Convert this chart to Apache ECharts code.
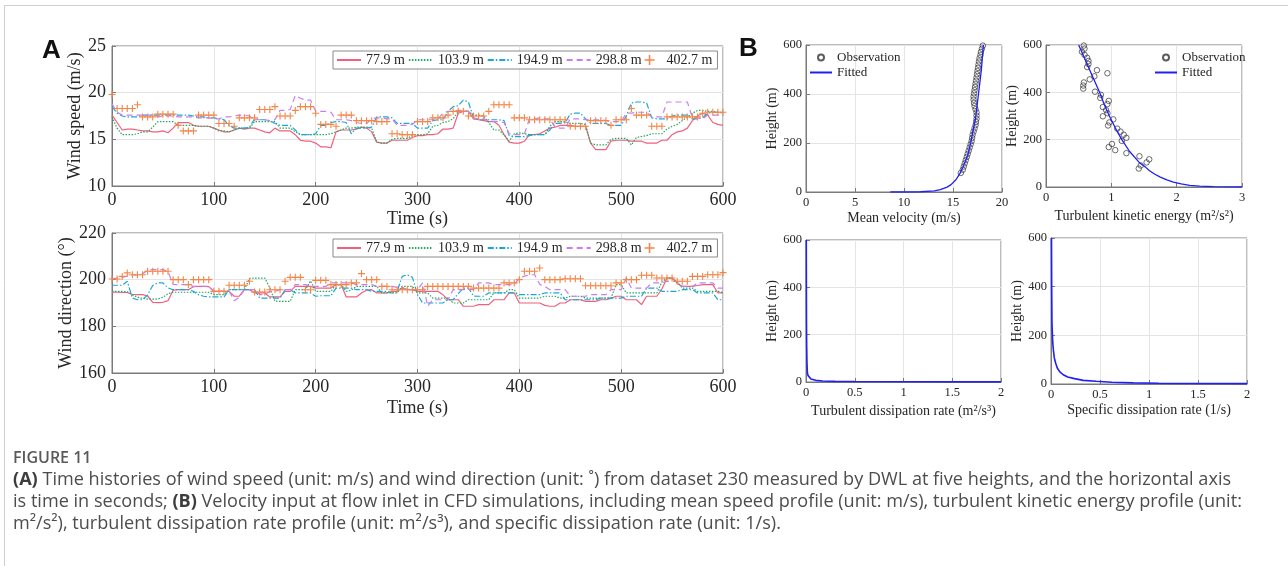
<!DOCTYPE html>
<html>
<head>
<meta charset="utf-8">
<script src="https://cdn.jsdelivr.net/npm/echarts@6/dist/echarts.min.js"></script>
<style>
html,body{margin:0;padding:0;background:#fff;}
#chart{width:1288px;height:566px;}
</style>
</head>
<body>
<div id="chart"></div>
<script>
// ---------------- DATA ----------------
const time = [0,5,10,15,20,25,30,35,40,45,50,55,60,65,70,75,80,85,90,95,
100,105,110,115,120,125,130,135,140,145,150,155,160,165,170,175,180,185,190,195,
200,205,210,215,220,225,230,235,240,245,250,255,260,265,270,275,280,285,290,295,
300,305,310,315,320,325,330,335,340,345,350,355,360,365,370,375,380,385,390,395,
400,405,410,415,420,425,430,435,440,445,450,455,460,465,470,475,480,485,490,495,
500,505,510,515,520,525,530,535,540,545,550,555,560,565,570,575,580,585,590,595,600];

const heightNames = ['77.9 m','103.9 m','194.9 m','298.8 m','402.7 m'];

const speed779 = [17.6,16.8,16.0,16.1,16.1,16.0,15.9,15.9,15.8,15.8,
15.9,15.7,16.2,16.8,16.8,16.8,16.5,16.4,16.4,16.4,
16.2,16.0,15.8,15.8,16.0,16.2,16.1,16.2,16.2,16.0,
15.8,15.7,16.2,15.9,15.9,15.9,15.5,14.9,14.8,14.8,
14.6,14.2,14.2,14.1,15.8,16.0,16.0,16.0,16.1,16.3,
16.2,15.8,14.7,14.6,14.6,14.9,14.9,14.9,14.9,15.2,
15.4,15.4,15.5,15.5,15.6,16.1,16.1,16.2,17.8,18.0,
18.0,17.2,17.1,17.0,16.9,16.9,16.5,15.5,14.7,14.6,
14.6,14.8,15.5,15.5,15.6,15.9,16.2,16.3,16.5,16.5,
16.5,16.4,16.4,16.4,14.6,13.9,13.9,13.9,14.8,14.9,
14.9,14.9,14.8,14.8,14.8,14.6,14.6,14.6,14.9,14.9,
15.5,15.8,15.9,16.2,17.0,17.5,17.8,17.6,16.8,16.6,16.5];

const speed1039 = [17.4,16.2,15.5,15.5,15.5,15.6,15.8,15.8,16.3,16.9,
16.9,16.9,16.9,16.5,16.5,16.5,16.5,16.4,16.4,16.4,
16.2,15.9,15.9,15.8,16.0,16.2,16.2,16.2,16.9,16.9,
16.9,16.9,16.9,16.2,16.2,16.2,15.8,15.5,15.5,15.5,
15.5,15.5,15.5,15.6,15.8,16.0,16.2,16.2,16.3,16.3,
16.3,16.2,14.7,14.6,14.6,15.0,15.1,15.1,15.1,15.4,
15.5,15.5,15.6,16.4,16.5,16.8,16.9,17.2,18.0,18.0,
18.0,17.6,17.6,17.5,16.8,16.0,16.0,15.5,14.8,15.6,
15.7,15.6,15.5,15.5,15.5,15.5,16.4,16.9,16.9,16.9,
16.7,16.7,16.7,16.6,14.6,14.4,14.4,14.4,15.0,15.1,
15.1,15.1,14.4,15.2,15.3,15.4,15.6,15.6,15.6,16.1,
16.4,16.6,17.0,17.4,17.8,18.1,18.1,18.0,18.0,17.9,17.9];

const speed1949 = [18.5,17.8,17.5,17.4,17.4,17.4,17.6,17.6,17.6,17.6,
17.6,17.6,17.6,17.6,17.6,17.6,17.5,17.4,17.4,17.3,
17.3,17.2,17.1,16.5,16.2,16.2,16.2,16.3,17.2,17.1,
17.1,17.0,16.7,16.5,16.5,16.5,16.0,15.5,15.5,15.5,
15.6,16.5,16.5,16.8,16.9,16.9,16.8,15.6,16.2,16.2,
16.2,16.3,17.4,17.4,17.4,17.3,16.7,16.7,16.7,16.7,
16.2,16.2,16.2,17.0,17.1,17.1,18.0,18.5,18.6,19.2,
19.0,17.3,17.1,17.1,17.1,17.1,17.1,17.0,15.4,15.3,
15.3,15.3,15.4,15.5,15.5,15.5,16.0,16.7,16.7,16.8,
17.7,17.8,17.8,17.2,16.7,16.7,16.7,16.7,16.5,16.5,
16.5,17.5,18.9,19.0,19.0,18.9,17.3,17.2,17.2,17.2,
17.5,17.6,17.6,17.6,17.2,17.2,17.3,17.8,17.9,17.9,17.8];

const speed2988 = [18.8,17.9,17.6,17.6,17.6,17.6,17.6,17.6,17.6,17.4,
17.5,17.5,17.5,17.4,17.4,17.4,17.4,17.3,17.3,17.3,
17.2,17.2,17.4,17.4,17.5,17.6,17.6,17.5,17.1,17.1,
17.1,17.0,17.1,18.1,18.1,18.2,19.7,19.4,19.2,19.2,
18.0,18.0,18.0,17.9,17.1,17.1,17.1,17.0,16.8,16.7,
16.7,17.2,17.3,17.3,17.2,17.2,16.5,16.5,16.5,16.6,
17.1,17.1,17.1,17.1,17.2,17.8,18.0,18.0,18.1,18.1,
18.0,17.3,17.2,17.2,17.0,16.9,16.9,16.8,15.6,15.5,
15.5,15.6,17.2,17.2,17.3,17.2,17.2,16.3,16.2,16.2,
17.2,17.2,17.2,17.1,17.1,17.1,17.1,17.0,16.9,16.9,
16.9,17.8,17.8,17.9,17.9,17.9,17.4,17.4,17.4,19.0,
19.0,19.0,19.0,19.0,17.3,17.3,17.2,17.6,17.6,17.6,17.6];

const speed4027 = [19.8,18.3,18.3,18.3,18.3,18.7,17.4,17.4,17.4,17.7,
17.7,17.7,17.7,16.5,15.9,15.9,15.9,17.6,17.6,17.6,
17.6,16.7,16.7,16.7,16.4,17.3,17.3,17.3,17.3,18.2,
18.2,18.2,18.5,17.5,17.5,17.5,18.1,18.5,18.5,18.5,
17.8,16.6,16.6,16.6,16.4,17.6,17.6,17.6,17.0,17.0,
17.0,17.0,16.9,16.9,16.9,15.6,15.6,15.5,15.5,15.5,
16.9,16.9,16.9,17.3,17.3,17.3,17.6,18.0,18.0,18.0,
17.5,17.5,17.5,17.5,18.0,18.7,18.7,18.7,18.7,17.3,
17.3,17.3,17.1,17.1,17.1,17.1,17.1,17.1,17.1,17.1,
16.4,16.4,16.4,16.4,17.0,17.0,17.0,17.0,16.5,17.1,
17.1,17.1,18.3,17.6,17.6,17.6,16.4,16.4,16.4,17.4,
17.4,17.4,17.4,17.4,17.4,17.4,17.8,17.9,17.9,17.9,17.9];

const dir779 = [194.7,194.6,194.5,194.5,193.7,193.6,193.6,193.0,190.3,190.2,
190.3,191.0,195.5,195.7,195.7,195.7,197.0,197.1,197.1,197.0,
195.0,195.0,195.0,195.0,192.9,192.9,195.7,195.7,194.3,194.3,
194.3,192.6,192.6,192.6,195.0,195.0,197.1,197.1,197.1,197.1,
196.4,196.4,196.4,196.4,197.9,197.9,192.6,192.6,192.6,194.3,
195.5,195.7,194.3,194.3,194.3,195.0,195.0,196.4,195.7,195.7,
195.0,195.0,195.0,195.0,195.0,193.5,191.4,191.4,191.4,188.6,
188.6,188.6,189.3,189.3,189.3,191.4,191.4,191.4,194.3,194.3,
190.0,190.0,190.0,190.0,190.0,189.0,188.6,188.6,190.0,190.0,
191.4,191.4,191.4,190.7,190.7,190.7,191.4,191.4,192.0,192.9,
192.9,191.4,191.4,191.4,189.3,192.9,192.9,192.9,196.0,200.7,
200.7,198.5,197.1,197.1,197.1,197.5,197.9,197.9,197.9,194.3,194.3];

const dir1039 = [195.0,195.0,195.0,194.8,193.5,192.5,192.0,191.7,191.7,191.7,
192.5,194.0,194.6,194.6,194.6,194.6,194.6,194.6,194.6,194.6,
193.6,193.6,193.6,195.7,195.7,195.7,195.7,200.5,200.7,200.7,
200.7,196.5,190.8,190.7,190.7,190.7,195.7,195.7,195.7,199.5,
195.0,195.0,195.0,195.0,197.9,197.9,195.0,195.5,197.1,197.1,
197.1,197.1,197.1,194.3,194.3,194.3,194.3,197.1,197.1,197.1,
194.3,194.3,194.3,192.1,192.1,192.1,192.1,190.0,190.0,190.0,
191.4,191.4,191.4,191.4,191.4,194.3,194.3,194.3,195.7,195.7,
192.1,192.1,192.1,192.1,192.1,192.9,192.9,192.9,192.1,192.1,
192.9,192.9,192.9,192.1,192.1,192.1,192.1,192.1,192.1,197.9,
197.9,194.3,194.3,194.3,194.3,194.3,194.3,194.3,199.0,200.7,
200.7,199.0,196.4,196.4,196.4,195.0,195.0,195.0,195.0,195.0,194.5];

const dir1949 = [197.6,197.6,197.6,199.3,192.1,191.4,191.4,193.5,197.5,198.6,
198.6,196.5,195.7,195.7,195.7,195.7,195.0,193.5,192.9,192.6,
192.6,192.6,192.6,195.7,195.7,195.7,195.7,195.7,195.7,192.1,
192.1,192.1,192.1,192.1,195.7,195.7,194.3,194.3,194.3,194.3,
192.9,193.1,193.1,193.1,196.4,196.4,196.4,196.4,195.7,195.7,
195.7,195.0,195.0,195.0,195.0,194.3,195.0,201.4,202.1,201.0,
193.6,190.0,190.0,190.0,190.0,190.0,191.4,191.4,194.0,196.4,
196.4,193.0,192.9,192.9,194.3,194.3,194.3,194.3,194.3,194.3,
193.6,193.6,193.6,193.6,193.6,194.3,194.3,194.3,194.3,191.4,
191.4,191.4,191.4,191.4,191.4,191.4,192.1,192.1,192.1,192.1,
192.1,192.9,192.9,192.9,192.9,196.4,196.4,196.4,195.0,195.0,
195.0,195.0,195.7,195.7,195.7,194.3,194.3,194.3,194.3,191.4,191.4];

const dir2988 = [200.5,200.7,201.0,201.5,202.0,202.0,202.5,204.0,204.3,204.3,
204.3,203.5,198.0,197.9,197.9,197.9,197.1,197.1,197.1,197.1,
195.0,195.0,195.0,195.0,191.0,192.5,195.7,195.7,195.7,193.6,
193.6,195.0,195.0,195.7,195.7,195.7,197.9,197.9,197.9,197.1,
197.1,197.1,197.1,198.6,198.6,198.6,198.6,198.6,197.9,197.9,
197.9,197.9,197.1,197.1,197.1,197.1,196.7,196.7,195.7,195.7,
195.7,198.6,188.6,191.4,191.4,191.4,191.4,195.7,195.7,195.7,
195.7,195.7,198.6,198.6,198.6,197.9,197.9,197.9,197.9,197.9,
200.7,201.5,202.1,202.1,198.0,197.1,195.7,195.7,195.7,195.7,
192.9,192.9,192.9,192.9,193.6,193.6,193.6,193.6,195.7,195.7,
195.7,200.7,196.4,196.4,196.4,196.4,198.6,198.6,198.6,199.3,
199.3,199.3,197.1,197.1,197.1,198.6,198.6,198.6,198.6,196.4,196.4];

const dir4027 = [200.3,200.3,201.4,202.9,202.1,202.1,202.1,203.6,203.6,203.6,
203.6,203.6,200.0,200.0,200.0,197.9,200.0,200.0,200.0,200.0,
195.0,195.0,195.0,197.6,197.6,197.6,197.6,199.3,194.7,194.7,
194.7,195.7,195.7,195.7,199.3,201.0,201.0,201.0,195.7,195.7,
199.7,199.7,199.7,197.9,197.9,197.9,197.9,198.6,198.6,202.6,
200.0,200.0,200.0,197.1,197.1,195.7,195.7,195.7,195.7,195.7,
195.7,195.7,197.1,197.1,197.1,197.1,197.1,197.1,197.1,197.1,
197.1,196.4,196.4,196.4,196.4,196.4,196.4,198.6,198.6,198.6,
200.0,203.6,203.6,203.6,205.0,200.0,200.0,200.0,200.0,200.4,
200.4,200.4,200.4,197.4,197.4,197.4,197.4,197.4,197.4,198.6,
198.6,200.0,200.0,200.0,201.9,201.9,201.9,200.7,200.7,200.7,
200.7,199.3,199.3,199.3,201.4,201.4,201.4,202.1,202.1,202.1,203.0];

// Panel B
const obsHeight = [77.9,90.9,103.9,116.9,129.9,142.9,155.8,168.8,181.8,194.8,
207.8,220.8,233.8,246.8,259.8,272.8,285.8,298.8,311.8,324.8,
337.7,350.7,363.7,376.7,389.7,402.7,415.7,428.7,441.7,454.7,
467.7,480.7,493.7,506.7,519.6,532.6,545.6,558.6,571.6,584.6,597.6];
const obsVelocity = [15.8,16.0,16.1,16.2,16.3,16.4,16.5,16.6,16.7,16.8,
16.9,16.95,17.0,17.1,17.2,17.3,17.35,17.4,17.4,17.4,
17.3,17.2,17.15,17.1,17.1,17.15,17.2,17.25,17.3,17.35,
17.4,17.45,17.5,17.55,17.6,17.65,17.7,17.8,17.85,17.95,18.05];
const obsTKE = [1.42,1.45,1.54,1.58,1.43,1.23,1.06,0.96,1.01,1.16,
1.23,1.19,1.14,1.09,0.95,0.97,1.03,0.87,0.94,0.92,
0.87,0.94,0.96,0.83,0.84,0.75,0.57,0.57,0.58,0.67,
0.74,0.94,0.78,0.63,0.65,0.65,0.63,0.59,0.55,0.59,0.58];

const fitVelocity = [[8.6,0.01],[9.0,0.02],[10.0,0.1],[11.7,1],[13.1,5],[13.7,10],[14.4,20],[14.8,30],[15.3,50],[15.7,75],[16.0,100],
[16.5,150],[16.8,200],[17.05,250],[17.3,300],[17.45,350],[17.6,400],[17.75,450],[17.9,500],[18.0,550],[18.1,600]];
const fitTKE = [[0.5,600],[0.58,550],[0.66,500],[0.74,450],[0.82,400],[0.89,350],[0.97,300],[1.06,250],[1.16,200],[1.28,150],
[1.44,100],[1.52,85],[1.58,70],[1.66,55],[1.75,42],[1.85,30],[1.95,21],[2.07,13],[2.2,7],[2.35,3.5],[2.56,1.2],[2.8,0.3],[3.0,0.05]];
const fitEpsilon = [[0.003,600],[0.004,400],[0.005,250],[0.007,150],[0.01,80],[0.014,40],[0.02,28],[0.03,20],[0.05,13],[0.07,10],
[0.1,7],[0.17,4.5],[0.3,2.8],[0.5,1.8],[1,1],[1.5,0.7],[2,0.5]];
const fitOmega = [[0.005,600],[0.006,500],[0.007,400],[0.01,250],[0.017,175],[0.024,140],[0.034,107],[0.048,85],[0.064,66],[0.09,50],
[0.125,38],[0.17,29],[0.24,22],[0.33,15],[0.46,11],[0.62,7],[0.84,4.5],[1.1,3],[1.5,2],[2,1.5]];

const captionTitle = 'FIGURE 11';
const captionLines = [
  '{b|(A)} Time histories of wind speed (unit: m/s) and wind direction (unit: \u02DA) from dataset 230 measured by DWL at five heights, and the horizontal axis',
  'is time in seconds; {b|(B)} Velocity input at flow inlet in CFD simulations, including mean speed profile (unit: m/s), turbulent kinetic energy profile (unit:',
  'm\u00B2/s\u00B2), turbulent dissipation rate profile (unit: m\u00B2/s\u00B3), and specific dissipation rate (unit: 1/s).'
];

// ---------------- STYLE / BUILD ----------------
const SERIF = '"Liberation Serif","Times New Roman",serif';
const SANS = '"Open Sans", Lato, sans-serif';
const TXT = '#262626';
const AX = '#7a7a7a';
const GRIDC = '#e4e4e4';
const colors = ['#f0607f','#22a85c','#1ba6d6','#c77ff0','#f5864a'];
const PLUS = 'path://M4.2,0H5.8V4.2H10V5.8H5.8V10H4.2V5.8H0V4.2H4.2Z';
const CAP_FS = 18.1;

function pairs(xs, ys){ return xs.map((x,i)=>[x, ys[i]]); }
function pairsYX(hs, vs){ return hs.map((h,i)=>[vs[i], h]); }

const chart = echarts.init(document.getElementById('chart'), null, {renderer:'canvas'});

const grids = [
  {left:112, top:46, width:611, height:140},
  {left:112, top:233, width:611, height:140},
  {left:806, top:45, width:196, height:147},
  {left:1046, top:45, width:196, height:142},
  {left:806, top:240, width:195, height:142},
  {left:1051, top:238, width:196, height:146}
].map(g => Object.assign({show:true, borderColor:AX, borderWidth:1, backgroundColor:'transparent', containLabel:false, outerBoundsMode:'none'}, g));

function xAx(gi, min, max, interval, name, nameGap, fs, margin){
  return {gridIndex:gi, type:'value', min, max, interval,
    axisLine:{show:true, onZero:false, lineStyle:{color:AX, width:1}},
    axisTick:{show:true, inside:true, length:4, lineStyle:{color:AX}},
    axisLabel:{fontFamily:SERIF, fontSize:fs, color:TXT, margin, showMinLabel:true, showMaxLabel:true, hideOverlap:false},
    splitLine:{show:true, lineStyle:{color:GRIDC, width:1}},
    name, nameLocation:'middle', nameGap, nameTextStyle:{fontFamily:SERIF, fontSize:fs===18?18:14, color:TXT}};
}
function yAx(gi, min, max, interval, name, nameGap, fs, margin){
  return {gridIndex:gi, type:'value', min, max, interval,
    axisLine:{show:true, onZero:false, lineStyle:{color:AX, width:1}},
    axisTick:{show:true, inside:true, length:4, lineStyle:{color:AX}},
    axisLabel:{fontFamily:SERIF, fontSize:fs, color:TXT, margin, showMinLabel:true, showMaxLabel:true, hideOverlap:false},
    splitLine:{show:true, lineStyle:{color:GRIDC, width:1}},
    name, nameLocation:'middle', nameGap, nameRotate:90, nameTextStyle:{fontFamily:SERIF, fontSize:fs===18?18:14, color:TXT}};
}

const xAxes = [
  xAx(0,0,600,100,'Time (s)',24,18,5),
  xAx(1,0,600,100,'Time (s)',26,18,5),
  xAx(2,0,20,5,'Mean velocity (m/s)',19,12.5,4),
  xAx(3,0,3,1,'Turbulent kinetic energy (m\u00B2/s\u00B2)',22,12.5,4),
  xAx(4,0,2,0.5,'Turbulent dissipation rate (m\u00B2/s\u00B3)',22,12.5,4),
  xAx(5,0,2,0.5,'Specific dissipation rate (1/s)',19,12.5,4)
];
const yAxes = [
  yAx(0,10,25,5,'Wind speed (m/s)',16,18,6),
  yAx(1,160,220,20,'Wind direction (\u00B0)',26,18,6),
  yAx(2,0,600,200,'Height (m)',25,12.5,4),
  yAx(3,0,600,200,'Height (m)',23,12.5,4),
  yAx(4,0,600,200,'Height (m)',23,12.5,4),
  yAx(5,0,600,200,'Height (m)',23,12.5,4)
];

const lineTypes = ['solid',[1.5,1.5],[6,2,1.5,2],[6,4]];
const speedSets = [speed779, speed1039, speed1949, speed2988, speed4027];
const dirSets = [dir779, dir1039, dir1949, dir2988, dir4027];

const series = [];
[[speedSets,0],[dirSets,1]].forEach(([sets, gi]) => {
  for (let k=0;k<4;k++){
    series.push({type:'line', name:heightNames[k], xAxisIndex:gi, yAxisIndex:gi,
      data:pairs(time, sets[k]), symbol:'none', showSymbol:false, silent:true,
      lineStyle:{color:colors[k], width:1.2, type:lineTypes[k]}, itemStyle:{color:colors[k]}, z:2+k});
  }
  series.push({type:'scatter', name:heightNames[4], xAxisIndex:gi, yAxisIndex:gi,
    data:pairs(time, sets[4]), symbol:PLUS, symbolSize:7, symbolKeepAspect:true, silent:true,
    itemStyle:{color:colors[4], opacity:1}, z:10});
});

const obsStyle = {color:'rgba(255,255,255,0)', borderColor:'#333', borderWidth:0.9};
const fitStyle = {color:'#2020f0', width:1.3};
series.push({type:'scatter', name:'Observation', xAxisIndex:2, yAxisIndex:2, data:pairsYX(obsHeight, obsVelocity),
  symbol:'circle', symbolSize:5.5, itemStyle:obsStyle, z:3, silent:true});
series.push({type:'line', name:'Fitted', xAxisIndex:2, yAxisIndex:2, data:fitVelocity, symbol:'none', showSymbol:false,
  lineStyle:fitStyle, itemStyle:{color:fitStyle.color}, z:4, silent:true});
series.push({type:'scatter', name:'Observation', xAxisIndex:3, yAxisIndex:3, data:pairsYX(obsHeight, obsTKE),
  symbol:'circle', symbolSize:5.5, itemStyle:obsStyle, z:3, silent:true});
series.push({type:'line', name:'Fitted', xAxisIndex:3, yAxisIndex:3, data:fitTKE, symbol:'none', showSymbol:false,
  lineStyle:fitStyle, itemStyle:{color:fitStyle.color}, z:4, silent:true});
series.push({type:'line', name:'Fitted \u03B5', xAxisIndex:4, yAxisIndex:4, data:fitEpsilon, symbol:'none', showSymbol:false,
  lineStyle:{color:fitStyle.color, width:1.6}, z:4, silent:true});
series.push({type:'line', name:'Fitted \u03C9', xAxisIndex:5, yAxisIndex:5, data:fitOmega, symbol:'none', showSymbol:false,
  lineStyle:{color:fitStyle.color, width:1.6}, z:4, silent:true});

const noSym = {opacity:0};
function legendA(top){
  return {show:true, left:333, top, orient:'horizontal', itemWidth:24, itemHeight:10, itemGap:3,
    padding:[2,5,2,3], borderColor:'#8a8a8a', borderWidth:1, borderRadius:0, backgroundColor:'#fff',
    selectedMode:false, textStyle:{fontFamily:SERIF, fontSize:14, color:TXT},
    data:heightNames.map((n,i)=> i<4 ? {name:n, itemStyle:noSym} : {name:n})};
}
function legendB(left){
  return {show:true, left, top:51, orient:'vertical', itemWidth:22, itemHeight:6, itemGap:2,
    padding:0, borderWidth:0, selectedMode:false,
    textStyle:{fontFamily:SERIF, fontSize:13, color:TXT, lineHeight:12},
    data:[{name:'Observation'}, {name:'Fitted', itemStyle:noSym}]};
}

const graphic = [
  {type:'line', shape:{x1:4, y1:5.5, x2:1288, y2:5.5}, style:{stroke:'#cfcfcf', lineWidth:1}, silent:true},
  {type:'line', shape:{x1:4.5, y1:5, x2:4.5, y2:566}, style:{stroke:'#cfcfcf', lineWidth:1}, silent:true},
  {type:'text', x:42, y:51, style:{text:'A', font:'bold 26px "Liberation Sans", Arial, sans-serif', fill:'#111', verticalAlign:'middle'}},
  {type:'text', x:739, y:49, style:{text:'B', font:'bold 26px "Liberation Sans", Arial, sans-serif', fill:'#111', verticalAlign:'middle'}},
  {type:'text', x:13, y:458, style:{text:captionTitle, font:'600 16px ' + SANS, fill:'#5a5a5a', verticalAlign:'middle'}}
];
captionLines.forEach((ln, i) => {
  graphic.push({type:'text', x:13, y:480 + i*22, style:{text:ln, fontFamily:SANS, fontSize:CAP_FS,
    fill:'#4d4d4d', verticalAlign:'middle', rich:{b:{fontFamily:SANS, fontSize:CAP_FS, fontWeight:'bold', fill:'#3d3d3d'}}}});
});

chart.setOption({
  animation:false,
  backgroundColor:'#fff',
  grid:grids,
  xAxis:xAxes,
  yAxis:yAxes,
  legend:[legendA(51), legendA(239), legendB(809), legendB(1154)],
  series,
  graphic
});
</script>
</body>
</html>
